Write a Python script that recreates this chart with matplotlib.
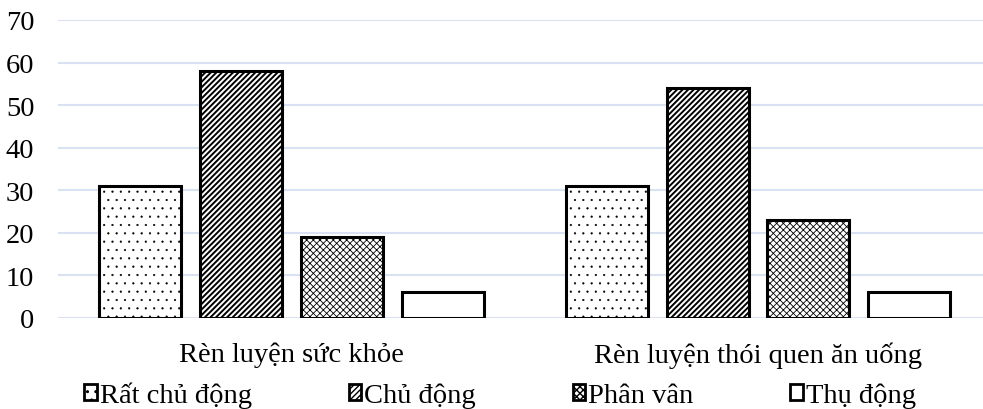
import matplotlib
matplotlib.use("Agg")
import matplotlib.pyplot as plt
from matplotlib.patches import Patch
import numpy as np

categories = ["Rèn luyện sức khỏe", "Rèn luyện thói quen ăn uống"]
series = ["Rất chủ động", "Chủ động", "Phân vân", "Thụ động"]
values = {
    "Rất chủ động": [31, 31],
    "Chủ động": [58, 54],
    "Phân vân": [19, 23],
    "Thụ động": [6, 6],
}
yticks = [0, 10, 20, 30, 40, 50, 60, 70]

hatches = ["..", "//////", "xxxxx", ""]
hatch_lw = [0.35, 1.4, 0.6, 1.0]

plt.rcParams["font.family"] = ["Liberation Serif", "DejaVu Serif"]

W, H = 983, 410
fig = plt.figure(figsize=(W / 100, H / 100), dpi=100)
ax = fig.add_axes([58 / W, (H - 319) / H, (W - 58) / W, (319 - 21) / H])

x = np.arange(len(categories))
step = 101 / 467
width = 82 / 467
FS = 20.5


def set_hlw(patch, lw):
    if hasattr(patch, "set_hatch_linewidth"):
        patch.set_hatch_linewidth(lw)


for i, s in enumerate(series):
    off = (i - 1.5) * step
    with plt.rc_context({"hatch.linewidth": hatch_lw[i]}):
        bars = ax.bar(x + off, values[s], width=width, facecolor="white", edgecolor="black",
                      linewidth=2.2, hatch=hatches[i], zorder=3)
    for b in bars:
        set_hlw(b, hatch_lw[i])

ax.set_xlim(-(291 - 58) / 467, (983 - 291) / 467)
ax.set_ylim(0, 70)
ax.set_yticks(yticks)
ax.set_xticks(x)
ax.set_xticklabels(categories)
ax.grid(axis="y", color="#D9E2F3", linewidth=1.5, zorder=0)
for sp in ax.spines.values():
    sp.set_visible(False)
ax.tick_params(axis="both", length=0, labelsize=FS)
ax.tick_params(axis="y", pad=17)
ax.tick_params(axis="x", pad=17)

handles = []
for i, h in enumerate(hatches):
    with plt.rc_context({"hatch.linewidth": hatch_lw[i]}):
        p = Patch(facecolor="white", edgecolor="black", linewidth=2.0, hatch=h)
    set_hlw(p, hatch_lw[i])
    handles.append(p)
fig.legend(handles, series, ncol=4, loc="center", bbox_to_anchor=(500 / W, 1 - 396 / H),
           frameon=False, fontsize=FS, handlelength=0.45, handleheight=0.45,
           handletextpad=0.1, columnspacing=3.4, borderaxespad=0)

fig.savefig("out.png", dpi=100)
